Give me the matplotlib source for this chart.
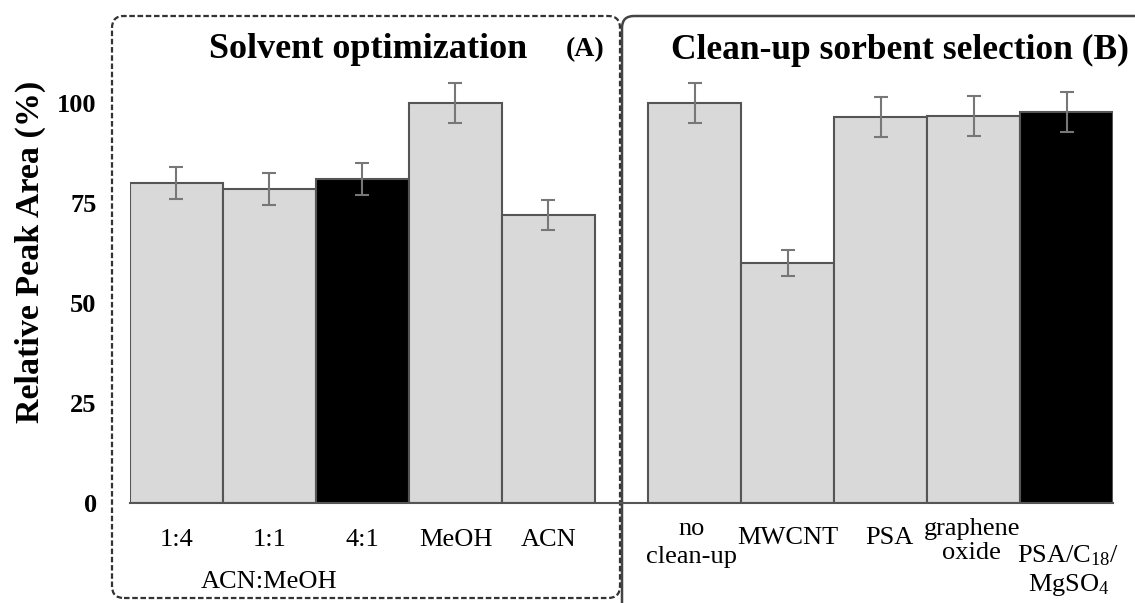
import numpy as np
import matplotlib
matplotlib.use("Agg")
import matplotlib.pyplot as plt
from matplotlib.patches import FancyBboxPatch

plt.rcParams['font.family'] = ['Liberation Serif', 'DejaVu Serif']
plt.rcParams['mathtext.fontset'] = 'custom'
plt.rcParams['mathtext.rm'] = 'Liberation Serif'

# data
solvent_labels = ['1:4', '1:1', '4:1', 'MeOH', 'ACN']
solvent_values = [80, 78.5, 81, 100, 72]
solvent_errors = [4, 4, 4, 5, 3.7]
solvent_colors = ['#d9d9d9', '#d9d9d9', 'black', '#d9d9d9', '#d9d9d9']

sorbent_labels = ['no\nclean-up', 'MWCNT', 'PSA', 'graphene\noxide',
                  'PSA/C$\\mathregular{_{18}}$/\nMgSO$\\mathregular{_4}$']
sorbent_values = [100, 60, 96.5, 96.8, 97.8]
sorbent_errors = [5, 3.2, 5, 5, 5]
sorbent_colors = ['#d9d9d9', '#d9d9d9', '#d9d9d9', '#d9d9d9', 'black']

W, H = 1135, 603
fig = plt.figure(figsize=(W / 100, H / 100), dpi=100)

# background axes in pixel units for the panel frames
bg = fig.add_axes([0, 0, 1, 1])
bg.set_xlim(0, W); bg.set_ylim(0, H)
bg.axis('off')
bg.add_patch(FancyBboxPatch((112, 5), 508, 582, boxstyle='round,pad=0,rounding_size=12',
                            fill=False, ec='#333333', lw=1.6, ls=(0, (2.5, 1.2))))
bg.add_patch(FancyBboxPatch((622, -30), 560, 617, boxstyle='round,pad=0,rounding_size=12',
                            fill=False, ec='#444444', lw=1.8))

ax = fig.add_axes([130 / W, 100 / H, 983 / W, 480 / H])
ax.patch.set_alpha(0)

x_left = np.arange(len(solvent_values)) + 0.5
gap = 0.57
x_right = np.arange(len(sorbent_values)) + 5.5 + gap

ax.bar(x_left, solvent_values, width=1.0, color=solvent_colors, edgecolor='#555555', lw=1.5)
ax.bar(x_right, sorbent_values, width=1.0, color=sorbent_colors, edgecolor='#555555', lw=1.5)
ax.errorbar(x_left, solvent_values, yerr=solvent_errors, fmt='none', ecolor='#777777',
            elinewidth=1.5, capsize=5, capthick=1.5)
ax.errorbar(x_right, sorbent_values, yerr=sorbent_errors, fmt='none', ecolor='#777777',
            elinewidth=1.5, capsize=5, capthick=1.5)

ax.set_xlim(0, x_right[-1] + 0.5)
ax.set_ylim(0, 120)
ax.set_xticks([])
ax.set_yticks([0, 25, 50, 75, 100])
ax.set_yticklabels(['0', '25', '50', '75', '100'], fontweight='bold', fontsize=19)
ax.tick_params(axis='y', length=0, pad=24)
for s in ['left', 'right', 'top']:
    ax.spines[s].set_visible(False)
ax.spines['bottom'].set_color('#555555')
ax.spines['bottom'].set_linewidth(1.5)

# category labels
for x, lab in zip(x_left, solvent_labels):
    ax.text(x, -9.3, lab, ha='center', va='center', fontsize=19, clip_on=False)
ax.text(x_left[1], -19.8, 'ACN:MeOH', ha='center', va='center', fontsize=19, clip_on=False)

label_y = [-10, -8.8, -8.8, -9.5, -17]
label_dx = [-0.03, 0.0, 0.1, -0.02, 0.02]
label_ls = [1.4, 1.2, 1.2, 1.15, 1.2]
for x, lab, yy, dx, ls in zip(x_right, sorbent_labels, label_y, label_dx, label_ls):
    ax.text(x + dx, yy, lab, ha='center', va='center', fontsize=19, linespacing=ls,
            clip_on=False)

fig.text(30 / W, 1 - 252 / H, 'Relative Peak Area (%)', rotation=90, ha='center',
         va='center', fontsize=24.5, fontweight='bold')
fig.text(368 / W, 1 - 50 / H, 'Solvent optimization', ha='center', va='center',
         fontsize=26, fontweight='bold')
fig.text(585 / W, 1 - 50 / H, '(A)', ha='center', va='center', fontsize=20, fontweight='bold')
fig.text(900 / W, 1 - 50 / H, 'Clean-up sorbent selection (B)', ha='center', va='center',
         fontsize=25.5, fontweight='bold')

fig.savefig('out.png', dpi=100)
